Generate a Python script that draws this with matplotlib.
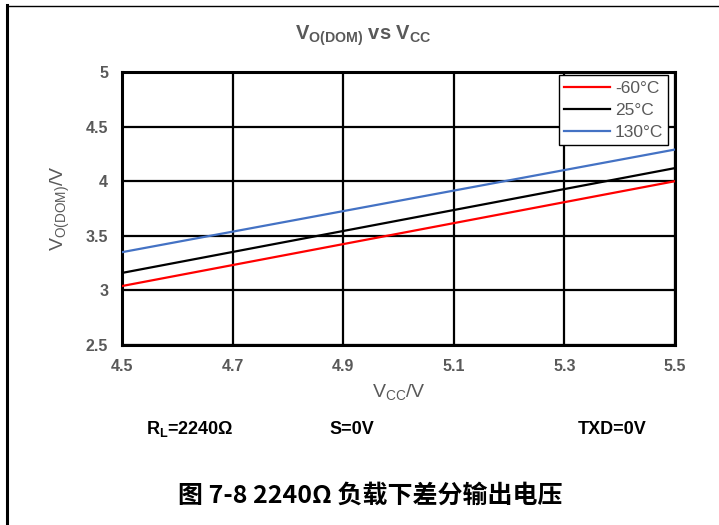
import matplotlib
matplotlib.use('Agg')
import matplotlib.pyplot as plt
from matplotlib.lines import Line2D

# data
vcc = [4.5, 5.0, 5.5]
v_m60 = [3.04, 3.52, 4.00]
v_25 = [3.16, 3.64, 4.12]
v_130 = [3.35, 3.82, 4.29]
labels = ['-60°C', '25°C', '130°C']
colors = ['#FF0000', '#000000', '#4472C4']
xticks = [4.5, 4.7, 4.9, 5.1, 5.3, 5.5]
yticks = [2.5, 3, 3.5, 4, 4.5, 5]

fam = ['Liberation Sans', 'DejaVu Sans']
plt.rcParams['font.family'] = fam
plt.rcParams['mathtext.fontset'] = 'custom'
plt.rcParams['mathtext.rm'] = 'Liberation Sans'
plt.rcParams['mathtext.it'] = 'Liberation Sans'
plt.rcParams['mathtext.bf'] = 'Liberation Sans:bold'
gray = '#595959'

fig = plt.figure(figsize=(7.19, 5.25), dpi=100)
ax = fig.add_axes([122 / 719, 1 - 345 / 525, (675 - 122) / 719, (345 - 72) / 525])

for ys, lab, c in zip([v_m60, v_25, v_130], labels, colors):
    ax.plot(vcc, ys, color=c, lw=1.6, label=lab, zorder=3)

ax.set_xlim(4.5, 5.5)
ax.set_ylim(2.5, 5)
ax.set_xticks(xticks)
ax.set_yticks(yticks)
ax.set_xticklabels(['%.1f' % v for v in xticks])
ax.set_yticklabels(['%g' % v for v in yticks])
ax.grid(True, color='black', lw=1.6)
ax.tick_params(length=0, pad=10, labelsize=11.5, labelcolor=gray)
for t in ax.get_xticklabels() + ax.get_yticklabels():
    t.set_fontweight('bold')
for s in ax.spines.values():
    s.set_linewidth(2.2)
    s.set_color('black')

ax.set_xlabel(r'$\mathrm{V_{CC}/V}$', fontsize=14, color=gray, labelpad=6)
ax.set_ylabel(r'$\mathrm{V_{O(DOM)}/V}$', fontsize=14, color=gray, labelpad=10)

leg = ax.legend(loc='upper right', bbox_to_anchor=(0.988, 0.988), fontsize=12.5,
                frameon=True, fancybox=False, edgecolor='black', framealpha=1,
                handlelength=2.6, borderpad=0.3, labelspacing=0.4,
                handletextpad=0.3, borderaxespad=0)
leg.get_frame().set_linewidth(1.0)
for t in leg.get_texts():
    t.set_color(gray)

fig.text(0.505, 1 - 36 / 525, r'$\mathbf{V_{O(DOM)}}$' + ' vs ' + r'$\mathbf{V_{CC}}$',
         ha='center', va='center', fontsize=14.5, color=gray, fontweight='bold')

fig.text(190 / 719, 1 - 429 / 525, r'$\mathbf{R_L}$' + '=2240Ω', ha='center', va='center',
         fontsize=13, color='black', fontweight='bold')
fig.text(352 / 719, 1 - 429 / 525, 'S=0V', ha='center', va='center',
         fontsize=13, color='black', fontweight='bold')
fig.text(612 / 719, 1 - 429 / 525, 'TXD=0V', ha='center', va='center',
         fontsize=13, color='black', fontweight='bold')

fig.text(370 / 719, 1 - 496 / 525, '图 7-8 2240Ω 负载下差分输出电压', ha='center', va='center',
         fontsize=18, fontweight='bold', family=['Noto Sans CJK SC', 'DejaVu Sans'])

# page frame
fig.add_artist(Line2D([6.5 / 719, 6.5 / 719], [0, 1 - 5 / 525], color='black', lw=2.2,
                      transform=fig.transFigure))
fig.add_artist(Line2D([6.5 / 719, 1], [1 - 5.5 / 525, 1 - 5.5 / 525], color='black', lw=1.0,
                      transform=fig.transFigure))

fig.savefig('out.png', dpi=100)
